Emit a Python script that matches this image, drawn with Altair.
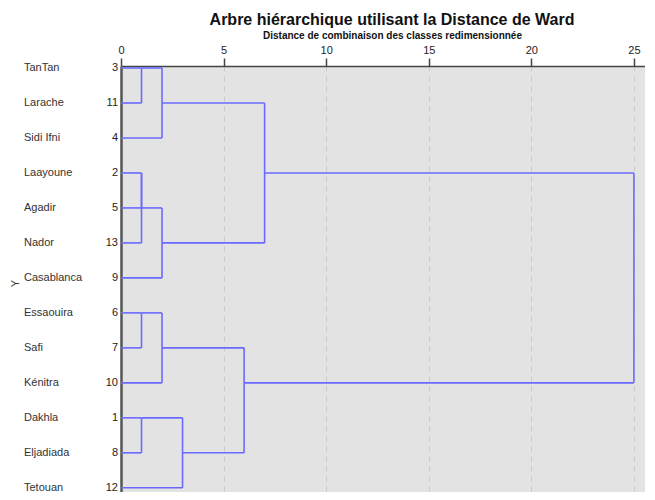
import altair as alt
import pandas as pd

# ---- data ----
cities = ["TanTan", "Larache", "Sidi Ifni", "Laayoune", "Agadir", "Nador", "Casablanca",
          "Essaouira", "Safi", "Kénitra", "Dakhla", "Eljadiada", "Tetouan"]
case_ids = [3, 11, 4, 2, 5, 13, 9, 6, 7, 10, 1, 8, 12]
# merges: (child_a, child_b, rescaled distance); leaves are 0..12 (row order), new nodes from 13
merge_a = [0, 13, 3, 15, 16, 7, 18, 10, 20, 14, 19, 22]
merge_b = [1, 2, 4, 5, 6, 8, 9, 11, 12, 17, 21, 23]
merge_h = [1, 2, 1, 1, 2, 1, 2, 1, 3, 7, 6, 25]
x_ticks = [0, 5, 10, 15, 20, 25]

# ---- build dendrogram segments from merges ----
n = len(cities)
node_y = {i: i for i in range(n)}
node_h = {i: 0 for i in range(n)}
segs = []
for k, (a, b, h) in enumerate(zip(merge_a, merge_b, merge_h)):
    ya, yb = node_y[a], node_y[b]
    segs.append(dict(x=node_h[a], x2=h, y=ya, y2=ya))
    segs.append(dict(x=node_h[b], x2=h, y=yb, y2=yb))
    segs.append(dict(x=h, x2=h, y=ya, y2=yb))
    new = n + k
    node_y[new] = (ya + yb) // 2
    node_h[new] = h
seg_df = pd.DataFrame(segs)
lab_df = pd.DataFrame({"row": list(range(n)), "city": cities, "case": [str(c) for c in case_ids]})

FONT = "Liberation Sans"
xscale = alt.Scale(domain=[0, 25.54], nice=False, zero=False)
yscale = alt.Scale(domain=[-0.057, 12.12], reverse=True, nice=False, zero=False)

lines = alt.Chart(seg_df).mark_rule(color="#6a6aff", strokeWidth=1.6, clip=True).encode(
    x=alt.X("x:Q", scale=xscale,
            axis=alt.Axis(orient="top", values=x_ticks, title="Distance de combinaison des classes redimensionnée",
                          titleFont=FONT, titleFontSize=10, titleFontWeight="bold", titleColor="#111",
                          titlePadding=4, labelFont=FONT, labelFontSize=11, labelColor="#222",
                          labelPadding=3, tickSize=8, tickColor="#444", tickWidth=1.5,
                          domainColor="#444", domainWidth=1.5, grid=True, gridColor="#c9c9c9",
                          gridDash=[5, 5], gridWidth=1, labelFlush=False,
                          titleX=271)),
    x2="x2:Q",
    y=alt.Y("y:Q", scale=yscale,
            axis=alt.Axis(orient="left", labels=False, ticks=False, grid=False, title="Y",
                          titleFont=FONT, titleFontSize=11, titleFontWeight="normal", titleColor="#333",
                          titleX=-106, titleY=217, titleAngle=-90, titleAlign="center",
                          titleBaseline="middle", domainColor="#555", domainWidth=2.5)),
    y2="y2:Q",
)

names = alt.Chart(lab_df).mark_text(align="left", baseline="middle", font=FONT, fontSize=11,
                                    color="#333").encode(
    x=alt.value(-97), y=alt.Y("row:Q", scale=yscale), text="city:N")
nums = alt.Chart(lab_df).mark_text(align="right", baseline="middle", font=FONT, fontSize=11,
                                   color="#222").encode(
    x=alt.value(-3), y=alt.Y("row:Q", scale=yscale), text="case:N")

chart = alt.layer(lines, names, nums).properties(
    width=524, height=426,
    title=alt.TitleParams("Arbre hiérarchique utilisant la Distance de Ward", font=FONT, fontSize=16,
                          fontWeight="bold", color="#111", anchor="middle", dx=9, offset=2),
    autosize=alt.AutoSizeParams(type="none"),
    padding={"left": 113, "top": 58, "right": 0, "bottom": 0},
    background="white",
).configure_view(fill="#e3e3e3", stroke=None)

chart.save("out.html", embed_options={"renderer": "svg", "actions": False})
